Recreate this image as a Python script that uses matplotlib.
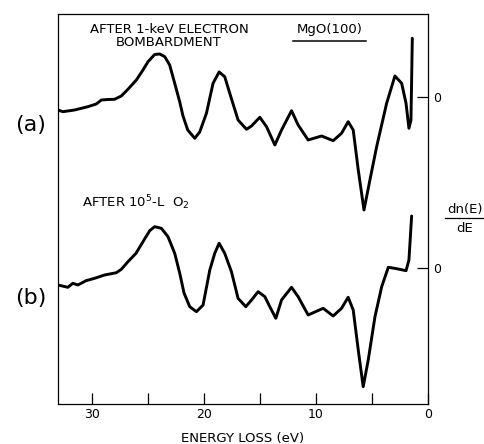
import matplotlib.pyplot as plt

# energy loss (eV) and dn(E)/dE (arb. units, relative to each zero line)
energy_a = [33.01, 32.56, 31.52, 30.33, 29.58, 29.13, 28.54, 27.95, 27.35, 26.76,
            26.01, 25.42, 24.97, 24.38, 23.93, 23.48, 23.04, 22.59, 22.14, 21.85,
            21.43, 20.80, 20.36, 19.76, 19.17, 18.63, 18.13, 17.68, 16.94, 16.19,
            15.74, 15.00, 14.40, 13.66, 13.06, 12.17, 11.58, 10.69, 9.49, 8.46,
            7.71, 7.12, 6.67, 6.22, 5.71, 5.18, 4.58, 3.69, 2.95, 2.35,
            1.96, 1.70, 1.52, 1.40]
signal_a = [-1.27, -1.44, -1.27, -0.94, -0.67, -0.27, -0.22, -0.20, 0.13, 0.80,
            1.73, 2.73, 3.56, 4.28, 4.33, 4.06, 3.23, 1.40, -0.47, -1.87,
            -3.27, -4.10, -3.47, -1.60, 1.40, 2.53, 2.06, 0.40, -2.27, -3.20,
            -2.87, -2.00, -2.94, -4.77, -3.27, -1.34, -2.77, -4.27, -3.87, -4.34,
            -3.60, -2.44, -3.27, -7.27, -11.27, -8.27, -4.94, -0.60, 2.13, 1.40,
            -0.60, -3.10, -2.27, 5.90]

energy_b = [33.01, 32.12, 31.67, 31.22, 30.50, 29.73, 28.84, 27.79, 27.35, 26.76,
            26.04, 25.42, 24.82, 24.38, 23.78, 23.19, 22.59, 22.14, 21.76, 21.25,
            20.65, 20.06, 19.46, 19.02, 18.63, 18.13, 17.53, 16.94, 16.25, 15.74,
            15.15, 14.55, 14.11, 13.57, 13.06, 12.17, 11.58, 10.69, 9.35, 8.46,
            7.71, 7.12, 6.67, 6.22, 5.78, 5.33, 4.73, 4.13, 3.54, 2.80,
            1.96, 1.70, 1.46]
signal_b = [-1.67, -1.90, -1.50, -1.67, -1.24, -1.00, -0.67, -0.44, -0.10, 0.66,
            1.50, 2.66, 3.76, 4.16, 4.00, 3.16, 1.50, -0.50, -2.47, -3.84,
            -4.34, -3.67, -0.17, 1.50, 2.50, 1.50, -0.34, -3.00, -3.84, -3.17,
            -2.34, -2.84, -3.84, -5.00, -3.17, -1.90, -2.84, -4.67, -4.00, -4.77,
            -4.00, -2.90, -4.17, -8.17, -11.84, -9.17, -4.84, -1.84, 0.10, -0.04,
            -0.24, 0.83, 5.23]

zero_a = 30.67
zero_b = 13.57

fig = plt.figure(figsize=(4.84, 4.44), dpi=100)
ax = fig.add_axes([0.1198, 0.0901, 0.7645, 0.8784])

ax.plot(energy_a, [v + zero_a for v in signal_a], color="black", lw=2.1,
        solid_joinstyle="round", solid_capstyle="round")
ax.plot(energy_b, [v + zero_b for v in signal_b], color="black", lw=2.1,
        solid_joinstyle="round", solid_capstyle="round")

ax.set_xlim(33, 0)
ax.set_ylim(0, 39)
for s in ax.spines.values():
    s.set_linewidth(0.9)

ax.set_xticks([30, 20, 10, 0])
ax.set_xticklabels(["30", "20", "10", "0"], fontsize=9)
ax.set_xticks([25, 15, 5], minor=True)
ax.tick_params(axis="x", which="both", direction="in", length=8, width=0.9, pad=3)
ax.set_xlabel("ENERGY LOSS (eV)", fontsize=9.5, labelpad=8)

ax.yaxis.tick_right()
ax.set_yticks([zero_a, zero_b])
ax.set_yticklabels(["0", "0"], fontsize=9)
ax.tick_params(axis="y", direction="in", length=8, width=0.9, pad=4)

# text placed in figure pixels measured from the top-left
W, H = 484, 444
def put(x, y, s, **kw):
    fig.text(x / W, 1 - y / H, s, **kw)

put(169, 36, "AFTER 1-keV ELECTRON\nBOMBARDMENT", fontsize=9.5, ha="center",
    va="center", linespacing=0.95)
put(329.5, 30, "MgO(100)", fontsize=9.5, ha="center", va="center")
fig.add_artist(plt.Line2D([293 / W, 366 / W], [1 - 41 / H, 1 - 41 / H],
                          color="black", lw=1.1))
put(82, 203, "AFTER 10$^{5}$-L  O$_{2}$", fontsize=9.5, ha="left", va="center")
put(31, 125, "(a)", fontsize=16, ha="center", va="center")
put(31, 298, "(b)", fontsize=16, ha="center", va="center")
put(465, 209, "dn(E)", fontsize=9.5, ha="center", va="center")
put(465, 228, "dE", fontsize=9.5, ha="center", va="center")
fig.add_artist(plt.Line2D([445 / W, 483 / W], [1 - 218 / H, 1 - 218 / H],
                          color="black", lw=0.9))

fig.savefig("out.png", dpi=100)
